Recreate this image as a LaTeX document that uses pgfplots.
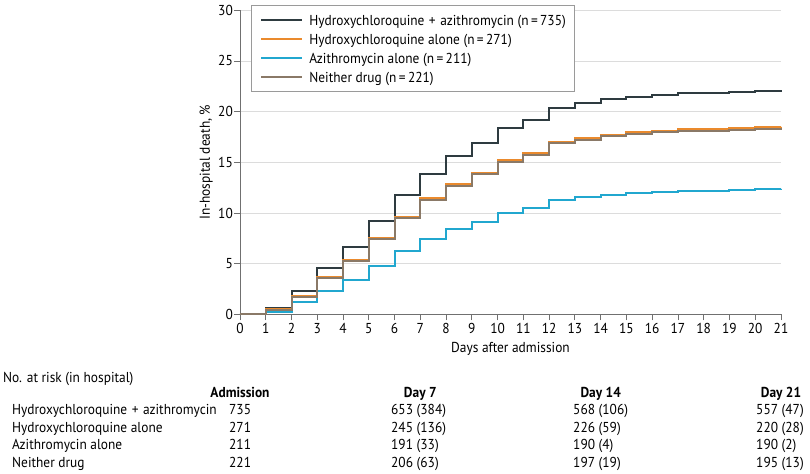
\documentclass[border=0pt]{standalone}
\usepackage{fontspec}
\setmainfont{PT Sans}[FakeStretch=0.93]
\usepackage{pgfplots}
\usepackage{pgfplotstable}
\pgfplotsset{compat=1.18}

\definecolor{hcqaz}{HTML}{2E3B40}
\definecolor{hcq}{HTML}{EA8A2D}
\definecolor{azi}{HTML}{21A7CF}
\definecolor{neither}{HTML}{8A7967}
\definecolor{axisgray}{HTML}{707070}
\definecolor{gridgray}{HTML}{DCDCDC}
\definecolor{boxgray}{HTML}{9A9A9A}

\newcommand{\plus}{\hspace{4.5bp}+\hspace{4.5bp}}

% cumulative in-hospital death (%) by day after admission
\pgfplotstableread{
day hcqaz  hcq   azi   neither
0   0      0     0     0
1   0.60   0.50  0.26  0.45
2   2.27   1.85  1.20  1.75
3   4.54   3.70  2.30  3.60
4   6.60   5.40  3.40  5.30
5   9.18   7.50  4.80  7.40
6   11.78  9.65  6.20  9.50
7   13.85  11.45 7.40  11.30
8   15.60  12.85 8.40  12.70
9   16.90  13.95 9.10  13.80
10  18.35  15.20 9.97  15.05
11  19.15  15.92 10.52 15.75
12  20.40  17.04 11.28 16.90
13  20.83  17.37 11.58 17.22
14  21.20  17.70 11.81 17.55
15  21.48  17.96 11.97 17.80
16  21.68  18.12 12.07 17.97
17  21.85  18.26 12.17 18.10
18  21.85  18.26 12.17 18.10
19  21.97  18.39 12.27 18.22
20  22.07  18.49 12.34 18.30
21  22.12  18.52 12.36 18.35
}\deaths

\begin{document}
\fontsize{14.4bp}{17bp}\selectfont
\begin{tikzpicture}
\begin{axis}[
  scale only axis, width=541bp, height=304bp,
  xmin=0, xmax=21, ymin=0, ymax=30,
  xtick={0,...,21}, ytick={0,5,...,30},
  axis lines*=left,
  axis line style={draw=axisgray, line width=0.9bp},
  tick style={draw=axisgray, line width=0.9bp},
  major tick length=6bp,
  tick align=outside,
  yticklabel style={inner xsep=1bp},
  xticklabel style={inner ysep=3bp},
  ymajorgrids,
  grid style={draw=gridgray, line width=0.8bp},
  /pgf/number format/assume math mode=true,
  xlabel={Days after admission},
  ylabel={In-hospital death, \%},
  xlabel style={at={(axis description cs:0.5,-0.125)}, anchor=base, inner sep=0pt},
  ylabel style={at={(axis description cs:-0.0555,0.5)}, anchor=base, inner sep=0pt},
  clip=false,
  legend cell align=left,
  legend image code/.code={\draw[#1] (0bp,0bp) -- (41bp,0bp);},
  legend style={at={(axis description cs:0.0203,1.0165)}, anchor=north west,
    draw=boxgray, line width=0.9bp, inner xsep=9bp, inner ysep=8bp,
    row sep=6bp,
    nodes={inner sep=0pt, text height=11.5bp, text depth=1.5bp},
    /tikz/every odd column/.append style={column sep=6bp}},
]
\addlegendimage{hcqaz, line width=2bp}
\addlegendentry{Hydroxychloroquine\plus azithromycin (n\,=\,735)}
\addlegendimage{hcq, line width=2bp}
\addlegendentry{Hydroxychloroquine alone (n\,=\,271)}
\addlegendimage{azi, line width=2bp}
\addlegendentry{Azithromycin alone (n\,=\,211)}
\addlegendimage{neither, line width=2bp}
\addlegendentry{Neither drug (n\,=\,221)}

\addplot[const plot, hcqaz, line width=2bp, forget plot] table[x=day, y=hcqaz] {\deaths};
\addplot[const plot, hcq, line width=2bp, forget plot] table[x=day, y=hcq] {\deaths};
\addplot[const plot, azi, line width=2bp, forget plot] table[x=day, y=azi] {\deaths};
\addplot[const plot, neither, line width=2bp, forget plot] table[x=day, y=neither] {\deaths};
\coordinate (O) at (axis cs:0,0);
\end{axis}

% number at risk table, positions in px relative to the axis origin
\begin{scope}[shift={(O)}, x=1bp, y=1bp]
  \node[anchor=base west, inner sep=0pt] at (-237,-68.7) {No. at risk (in hospital)};
  \begin{scope}[every node/.style={anchor=base, inner sep=0pt, font=\bfseries}]
    \node at (0,-83.2) {Admission};
    \node at (180.3,-83.2) {Day 7};
    \node at (360.7,-83.2) {Day 14};
    \node at (541,-83.2) {Day 21};
  \end{scope}
  \begin{scope}[every node/.style={anchor=base west, inner sep=0pt}]
    \node at (-228,-100.7) {Hydroxychloroquine\plus azithromycin};
    \node at (-228,-118.4) {Hydroxychloroquine alone};
    \node at (-228,-135.7) {Azithromycin alone};
    \node at (-228,-153.2) {Neither drug};
    \node at (-11,-100.7) {735};
    \node at (-11,-118.4) {271};
    \node at (-11,-135.7) {211};
    \node at (-11,-153.2) {221};
    \node at (151,-100.7) {653 (384)};
    \node at (151,-118.4) {245 (136)};
    \node at (151,-135.7) {191 (33)};
    \node at (151,-153.2) {206 (63)};
    \node at (333,-100.7) {568 (106)};
    \node at (333,-118.4) {226 (59)};
    \node at (333,-135.7) {190 (4)};
    \node at (333,-153.2) {197 (19)};
    \node at (516,-100.7) {557 (47)};
    \node at (516,-118.4) {220 (28)};
    \node at (516,-135.7) {190 (2)};
    \node at (516,-153.2) {195 (13)};
  \end{scope}
  \pgfresetboundingbox
  \path (-240,-159.7) rectangle (570,314.3);
\end{scope}
\end{tikzpicture}
\end{document}
